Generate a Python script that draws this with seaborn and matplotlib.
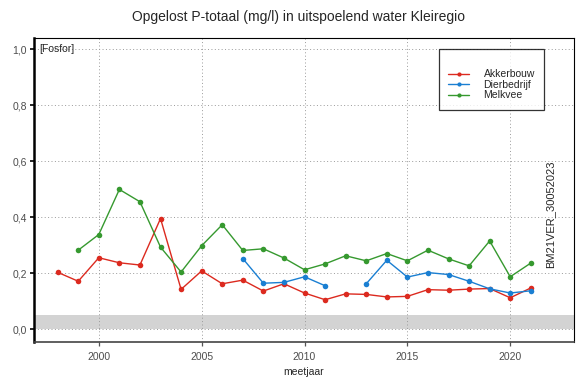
import numpy as np
import pandas as pd
import matplotlib
matplotlib.use("Agg")
import matplotlib.pyplot as plt
from matplotlib.ticker import FuncFormatter
import seaborn as sns

years = list(range(1998, 2022))
akkerbouw = [0.203, 0.171, 0.255, 0.237, 0.229, 0.395, 0.142, 0.208, 0.162, 0.175,
             0.136, 0.162, 0.129, 0.105, 0.126, 0.124, 0.115, 0.117, 0.141, 0.139,
             0.143, 0.145, 0.112, 0.147]
dierbedrijf = [np.nan] * 9 + [0.252, 0.164, 0.167, 0.187, 0.155, np.nan, 0.162, 0.246,
                              0.186, 0.202, 0.195, 0.171, 0.144, 0.129, 0.137]
melkvee = [np.nan, 0.282, 0.338, 0.499, 0.455, 0.293, 0.204, 0.298, 0.373, 0.281,
           0.287, 0.254, 0.212, 0.233, 0.262, 0.244, 0.270, 0.244, 0.282, 0.251,
           0.226, 0.315, 0.187, 0.236]
series = ["Akkerbouw", "Dierbedrijf", "Melkvee"]
colors = ["#dc2a1f", "#1a7fd2", "#36992f"]

df = pd.DataFrame({"meetjaar": years, "Akkerbouw": akkerbouw,
                   "Dierbedrijf": dierbedrijf, "Melkvee": melkvee})
long = df.melt(id_vars="meetjaar", var_name="sector", value_name="P")
# segment id so missing years break the line
long["seg"] = long.groupby("sector")["P"].transform(lambda s: s.isna().cumsum())
long = long.dropna()

sns.set_style("white")
plt.rcParams["font.family"] = ["Liberation Sans", "DejaVu Sans"]

fig = plt.figure(figsize=(5.84, 3.89), dpi=100)
ax = fig.add_axes([34 / 584, 1 - 342 / 389, 540 / 584, 304 / 389])

ax.axhspan(0, 0.05, color="#d3d3d3", lw=0, zorder=0.1)
sns.lineplot(data=long, x="meetjaar", y="P", hue="sector", units="seg",
             estimator=None, hue_order=series, palette=colors, marker="o",
             markersize=4, markeredgewidth=0, linewidth=1.0, ax=ax, legend=False)

ax.set_xlim(1996.85, 2023.1)
ax.set_ylim(-0.046, 1.04)
ax.set_xticks([2000, 2005, 2010, 2015, 2020])
ax.set_yticks([0, 0.2, 0.4, 0.6, 0.8, 1.0])
ax.yaxis.set_major_formatter(FuncFormatter(lambda v, p: f"{v:.1f}".replace(".", ",")))
ax.set_axisbelow(True)
ax.grid(True, linestyle=(0, (1, 2.5)), color="#9a9a9a", linewidth=0.7)
ax.tick_params(axis="y", length=3, width=1.2, color="black", labelsize=7.5,
               labelcolor="#4d4d4d", pad=2, left=True)
ax.tick_params(axis="x", length=3, width=0.9, color="#555555", labelsize=7.5,
               labelcolor="#4d4d4d", pad=4, bottom=True)
ax.set_xlabel("meetjaar", fontsize=7.5, labelpad=4)
ax.set_ylabel("")
for side in ["top", "right"]:
    ax.spines[side].set_linewidth(0.8)
    ax.spines[side].set_color("black")
ax.spines["left"].set_linewidth(1.8)
ax.spines["left"].set_color("black")
ax.spines["bottom"].set_linewidth(1.2)
ax.spines["bottom"].set_color("#444444")

ax.text(1997.1, 1.0, "[Fosfor]", fontsize=7.5, va="center", ha="left")
ax.text(2021.95, 0.41, "BM21VER_30052023", rotation=90, fontsize=8,
        va="center", ha="center")

handles = [plt.Line2D([], [], color=c, marker="o", markersize=3,
                      markeredgewidth=0, linewidth=1.0) for c in colors]
leg = ax.legend(handles, series, loc="upper left", bbox_to_anchor=(0.74, 0.98),
                title=" ", title_fontsize=8, fontsize=7.5, frameon=True,
                fancybox=False, edgecolor="black", handlelength=2.0,
                labelspacing=0.05, borderpad=0.9, handletextpad=1.4)
leg.get_frame().set_linewidth(0.9)

fig.text(299 / 584, 1 - 17 / 389, "Opgelost P-totaal (mg/l) in uitspoelend water Kleiregio",
         ha="center", va="center", fontsize=10)

fig.savefig("out.png", dpi=100)
